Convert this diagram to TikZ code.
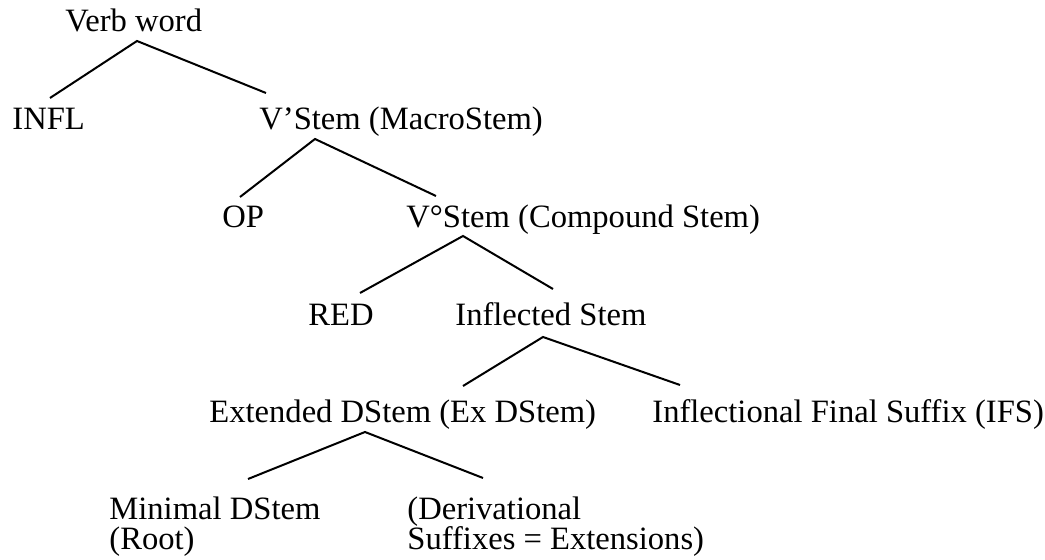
\documentclass[tikz,border=0pt]{standalone}
\usepackage{fontspec}
\setmainfont{Liberation Serif}
\begin{document}
\begin{tikzpicture}[x=0.5pt,y=-0.5pt,
  lab/.style={anchor=base west,inner sep=0pt,font=\fontsize{16.3}{15}\selectfont,align=left},
  edge/.style={line width=1pt}]
\useasboundingbox (0,0) rectangle (1045,560);
% labels
\node[lab] (vw)  at (65,32)   {Verb word};
\node[lab] (infl) at (12,130) {INFL};
\node[lab] (vs1) at (259,130) {V’Stem (MacroStem)};
\node[lab] (op)  at (222,228) {OP};
\node[lab] (vs0) at (406,228) {V°Stem (Compound Stem)};
\node[lab] (red) at (308,326) {RED};
\node[lab] (ist) at (455,326) {Inflected Stem};
\node[lab] (eds) at (209,423) {Extended DStem (Ex DStem)};
\node[lab] (ifs) at (652,423) {Inflectional Final Suffix (IFS)};
\node[lab] (mds) at (109,550) {Minimal DStem\\(Root)};
\node[lab] (der) at (407,550) {(Derivational\\Suffixes = Extensions)};
% branch points
\coordinate (vw-a) at (137,41);
\coordinate (infl-t) at (50,98);
\coordinate (vs1-t) at (266,93);
\coordinate (vs1-a) at (315,139);
\coordinate (op-t) at (240,197);
\coordinate (vs0-t) at (436,196);
\coordinate (vs0-a) at (463,236);
\coordinate (red-t) at (360,293);
\coordinate (ist-t) at (553,289);
\coordinate (ist-a) at (543,337);
\coordinate (eds-t) at (463,386);
\coordinate (ifs-t) at (680,385);
\coordinate (eds-a) at (365,432);
\coordinate (mds-t) at (248,479);
\coordinate (der-t) at (483,478);
% connectors
\draw[edge] (infl-t) -- (vw-a) -- (vs1-t);
\draw[edge] (op-t) -- (vs1-a) -- (vs0-t);
\draw[edge] (red-t) -- (vs0-a) -- (ist-t);
\draw[edge] (eds-t) -- (ist-a) -- (ifs-t);
\draw[edge] (mds-t) -- (eds-a) -- (der-t);
\end{tikzpicture}
\end{document}
